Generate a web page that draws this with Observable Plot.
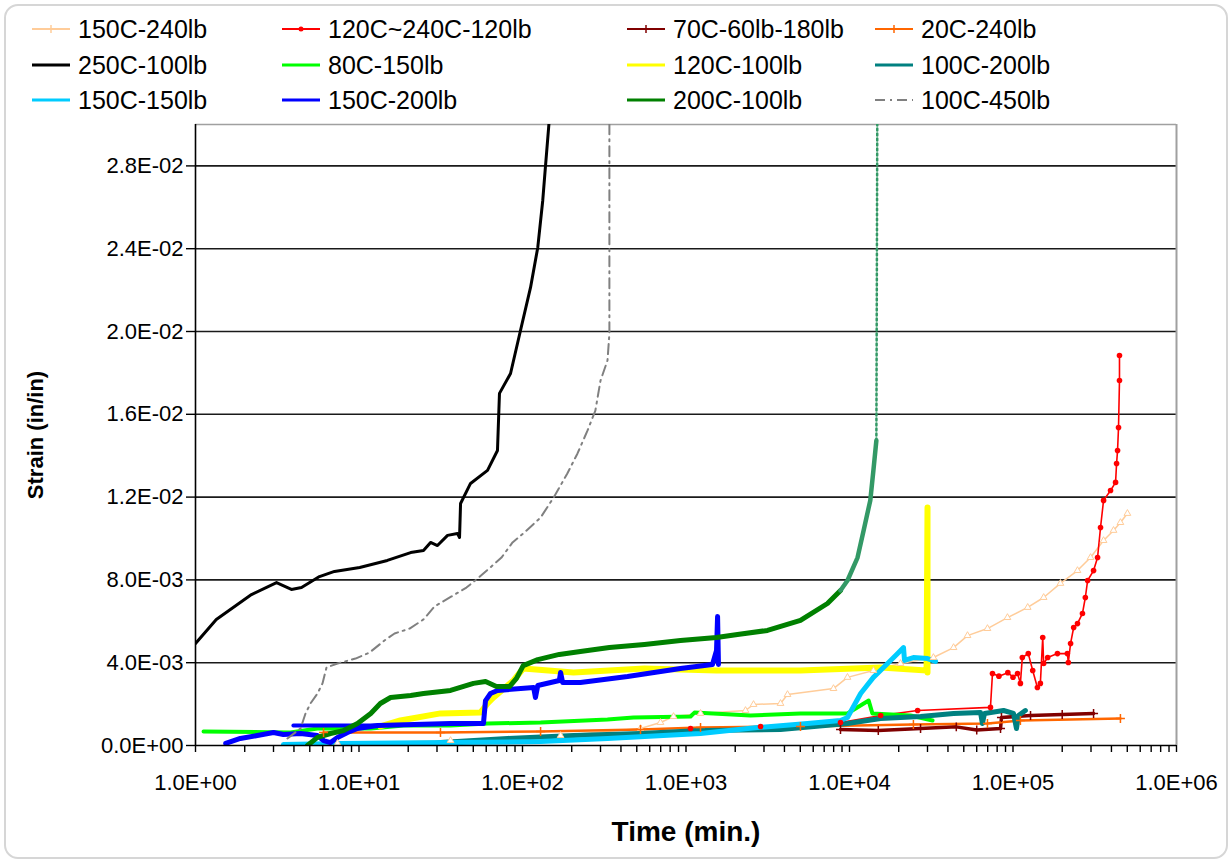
<!DOCTYPE html>
<html><head><meta charset="utf-8">
<script src="https://cdn.jsdelivr.net/npm/d3@7"></script>
<script src="https://cdn.jsdelivr.net/npm/@observablehq/plot@0.6"></script>
<style>
html,body{margin:0;padding:0;background:#fff;}
#page{position:relative;width:1232px;height:863px;overflow:hidden;font-family:"Liberation Sans",Arial,sans-serif;}
#border{position:absolute;left:4px;top:4px;width:1224px;height:855px;border:2px solid #d6d6d6;border-radius:14px;box-sizing:border-box;pointer-events:none;}
#legend{position:absolute;left:0;top:0;width:1232px;height:115px;}
.item{position:absolute;display:flex;align-items:center;height:28px;font-size:25px;color:#000;white-space:nowrap;}
.item svg{margin-right:8px;}
#chart{position:absolute;left:0;top:115px;}
</style></head>
<body><div id="page"><div id="legend"></div><div id="chart"></div><div id="border"></div></div>
<script>
// ---- tick values / labels ----
const xMajor = [1, 10, 100, 1000, 10000, 100000, 1000000];
const xMajorLabels = ["1.0E+00","1.0E+01","1.0E+02","1.0E+03","1.0E+04","1.0E+05","1.0E+06"];
const yTicks = [0, 0.004, 0.008, 0.012, 0.016, 0.020, 0.024, 0.028];
const yTickLabels = ["0.0E+00","4.0E-03","8.0E-03","1.2E-02","1.6E-02","2.0E-02","2.4E-02","2.8E-02"];

// ---- series names ----
const seriesNames = ["150C-240lb","120C~240C-120lb","70C-60lb-180lb","20C-240lb",
  "250C-100lb","80C-150lb","120C-100lb","100C-200lb",
  "150C-150lb","150C-200lb","200C-100lb","100C-450lb"];

// ---- series values: [time (min), strain (in/in)] ----
const d150C_240lb = [[7.39,0.00010],[36.3,0.00024],[171,0.00048],[527,0.00082],[698,0.00111],[839,0.00140],[1227,0.00155],[2312,0.00169],[2588,0.00198],[3785,0.00203],[4178,0.00246],[7980,0.00275],[9720,0.00329],[14000,0.00362],[20500,0.00396],[32600,0.00425],[43300,0.00473],[52700,0.00531],[69800,0.00565],[92500,0.00618],[123000,0.00667],[154000,0.00715],[195000,0.00783],[248000,0.00845],[298000,0.00908],[358000,0.00990],[412000,0.01039],[454000,0.01077],[501000,0.01121]];
const d120C_240C_120lb = [[1066,0.00082],[2858,0.00092],[8810,0.00111],[15500,0.00145],[26100,0.00169],[72800,0.00184],[74900,0.00348],[82000,0.00335],[93000,0.00352],[100000,0.00330],[106600,0.00348],[111000,0.00300],[114000,0.00425],[124000,0.00444],[132000,0.00362],[141000,0.00280],[147000,0.00300],[152000,0.00522],[154000,0.00396],[163000,0.00425],[187000,0.00444],[215000,0.00444],[218000,0.00401],[225000,0.00493],[235000,0.00570],[248000,0.00589],[266000,0.00638],[277000,0.00715],[286000,0.00797],[311000,0.00845],[329000,0.00908],[343000,0.01053],[358000,0.01184],[395000,0.01232],[424000,0.01271],[430000,0.01362],[436000,0.01425],[442000,0.01536],[448000,0.01763],[448000,0.01884]];
const d70C_60lb_180lb = [[8810,0.00077],[15000,0.00072],[27200,0.00082],[45000,0.00090],[60000,0.00075],[83900,0.00082],[85000,0.00135],[128000,0.00145],[200000,0.00150],[311000,0.00155]];
const d20C_240lb = [[6.07,0.00063],[31.5,0.00063],[129,0.00068],[527,0.00077],[1227,0.00087],[5012,0.00092],[24600,0.00101],[69800,0.00106],[111000,0.00121],[454000,0.00130]];
const d250C_100lb = [[1.0,0.00493],[1.34,0.00609],[2.20,0.00729],[3.13,0.00787],[3.86,0.00754],[4.45,0.00763],[5.73,0.00816],[7.08,0.00841],[10.1,0.00860],[14.9,0.00894],[20.7,0.00932],[24.8,0.00942],[27.4,0.00981],[30.2,0.00966],[34.8,0.01015],[40.0,0.01024],[41.2,0.01005],[41.8,0.01169],[48.1,0.01266],[61.1,0.01329],[70.3,0.01425],[72.3,0.01701],[84.5,0.01797],[97.2,0.02005],[112,0.02213],[124,0.02406],[133,0.02633],[138,0.02792],[146,0.03029]];
const d80C_150lb = [[1.12,0.00068],[3.81,0.00063],[5.57,0.00082],[11.8,0.00082],[18.7,0.00097],[36.3,0.00097],[61.1,0.00106],[129,0.00111],[331,0.00126],[477,0.00135],[1066,0.00140],[1127,0.00159],[2479,0.00145],[5012,0.00155],[9720,0.00155],[13100,0.00217],[13800,0.00155],[23600,0.00145],[32200,0.00121]];
const d120C_100lb = [[13.5,0.00092],[17.9,0.00121],[31.5,0.00155],[55.3,0.00159],[61.1,0.00203],[66.5,0.00232],[81.0,0.00290],[88.1,0.00314],[101,0.00372],[205,0.00353],[557,0.00372],[1537,0.00362],[5012,0.00362],[15500,0.00377],[29600,0.00362],[30000,0.01150],[30000,0.00353]];
const d100C_200lb = [[23.8,0],[31.5,0.00014],[81.0,0.00034],[205,0.00048],[527,0.00058],[1227,0.00072],[3785,0.00077],[9720,0.00106],[15500,0.00130],[27200,0.00140],[43300,0.00155],[63300,0.00159],[65000,0.00106],[66900,0.00155],[87500,0.00169],[100700,0.00155],[105000,0.00082],[108000,0.00145],[119000,0.00169]];
const d150C_150lb = [[3.45,0.00005],[7.71,0.00010],[36.3,0.00014],[129,0.00019],[331,0.00034],[1227,0.00058],[2737,0.00087],[5534,0.00106],[8810,0.00121],[9720,0.00135],[11700,0.00251],[14000,0.00329],[17100,0.00396],[19700,0.00444],[21400,0.00473],[21700,0.00411],[24600,0.00425],[30000,0.00420],[33600,0.00406]];
const d150C_200lb = [[1.53,0.00010],[1.88,0.00034],[2.39,0.00048],[3.00,0.00063],[3.45,0.00053],[4.39,0.00058],[5.57,0.00048],[6.07,0.00024],[6.69,0.00014],[7.39,0.00039],[8.51,0.00063],[9.79,0.00082],[13.0,0.00097],[36.3,0.00106],[57.7,0.00106],[59.4,0.00217],[63.7,0.00251],[70.3,0.00266],[117,0.00280],[120,0.00232],[124,0.00290],[168,0.00314],[171,0.00353],[176,0.00304],[226,0.00304],[439,0.00333],[925,0.00372],[1452,0.00391],[1537,0.00459],[1560,0.00623],[1580,0.00391]];
const d150C_200lb_b = [[3.97,0.00097],[13.0,0.00097]];
const d200C_100lb = [[4.84,0],[5.57,0.00039],[6.69,0.00058],[8.04,0.00072],[9.79,0.00106],[11.8,0.00155],[13.5,0.00203],[15.6,0.00232],[20.7,0.00242],[24.8,0.00251],[36.3,0.00266],[50.1,0.00300],[59.4,0.00309],[69.3,0.00285],[83.3,0.00285],[91.9,0.00324],[101,0.00386],[124,0.00415],[168,0.00440],[226,0.00454],[340,0.00473],[557,0.00488],[925,0.00507],[1537,0.00522],[2065,0.00536],[3150,0.00556],[5012,0.00604],[7330,0.00686],[8810,0.00749]];
const d200C_100lb_tail = [[8810,0.00749],[9720,0.00797],[11200,0.00908],[12200,0.01039],[13400,0.01184],[14000,0.01329],[14600,0.01473]];
const d200C_100lb_dotted = [[14600,0.01473],[14800,0.0310]];
const d100C_450lb = [[3.65,0.00034],[4.39,0.00082],[4.71,0.00155],[5.05,0.00203],[5.57,0.00251],[5.98,0.00300],[6.33,0.00377],[7.39,0.00396],[9.52,0.00420],[11.6,0.00449],[14.3,0.00507],[16.5,0.00541],[20.4,0.00565],[24.8,0.00609],[29.0,0.00672],[36.8,0.00720],[45.4,0.00763],[52.3,0.00802],[64.6,0.00865],[74.4,0.00908],[86.9,0.00981],[101,0.01024],[129,0.01101],[155,0.01198],[188,0.01314],[217,0.01411],[250,0.01522],[279,0.01618],[300,0.01763],[331,0.01860],[340,0.01990],[340,0.0310]];

// ---- styles ----
const colors = {
  "150C-240lb":"#FFCC99","120C~240C-120lb":"#FF0000","70C-60lb-180lb":"#800000","20C-240lb":"#FF6600",
  "250C-100lb":"#000000","80C-150lb":"#00FF00","120C-100lb":"#FFFF00","100C-200lb":"#008080",
  "150C-150lb":"#00CCFF","150C-200lb":"#0000FF","200C-100lb":"#008000","100C-450lb":"#808080"
};
const tailColor = "#339966";
const rows = arr => arr.map(([t, s]) => ({t, s}));

const lineSpecs = [
  [d150C_240lb, "150C-240lb", 1.5, null],
  [d120C_240C_120lb, "120C~240C-120lb", 1.6, null],
  [d70C_60lb_180lb, "70C-60lb-180lb", 3.5, null],
  [d20C_240lb, "20C-240lb", 2.5, null],
  [d250C_100lb, "250C-100lb", 3, null],
  [d80C_150lb, "80C-150lb", 4, null],
  [d120C_100lb, "120C-100lb", 6, null],
  [d100C_200lb, "100C-200lb", 5, null],
  [d150C_150lb, "150C-150lb", 5, null],
  [d150C_200lb, "150C-200lb", 5, null],
  [d150C_200lb_b, "150C-200lb", 4, null],
  [d200C_100lb, "200C-100lb", 5, null],
  [d100C_450lb, "100C-450lb", 2, "10,5,2,5"]
];

const lineMarks = [];
for (const [arr, name, w, dash] of lineSpecs) {
  lineMarks.push(Plot.line(rows(arr), {x: "t", y: "s", stroke: colors[name], strokeWidth: w,
    strokeDasharray: dash ?? undefined, clip: true, strokeLinejoin: "round"}));
  if (arr === d200C_100lb) {
    lineMarks.push(Plot.line(rows(d200C_100lb_tail), {x: "t", y: "s", stroke: tailColor, strokeWidth: 4.5, clip: true}));
    lineMarks.push(Plot.line(rows(d200C_100lb_dotted), {x: "t", y: "s", stroke: tailColor, strokeWidth: 2.5, strokeDasharray: "2,3", clip: true}));
  }
}
const markerMarks = [
  Plot.dot(rows(d150C_240lb), {x: "t", y: "s", r: 2.5, stroke: colors["150C-240lb"], fill: "#fff", strokeWidth: 1, symbol: "triangle", clip: true}),
  Plot.dot(rows(d120C_240C_120lb), {x: "t", y: "s", r: 2.8, fill: colors["120C~240C-120lb"], clip: true}),
  Plot.dot(rows(d20C_240lb), {x: "t", y: "s", r: 3, stroke: colors["20C-240lb"], symbol: "plus", strokeWidth: 1.5, clip: true}),
  Plot.dot(rows(d70C_60lb_180lb), {x: "t", y: "s", r: 3, stroke: colors["70C-60lb-180lb"], symbol: "plus", strokeWidth: 1.5, clip: true})
];

const minorTicks = [];
for (const d of xMajor.slice(0, -1)) for (let k = 2; k <= 9; k++) minorTicks.push(d * k);

const chart = Plot.plot({
  width: 1232,
  height: 748,
  marginTop: 9,
  marginBottom: 118,
  marginLeft: 195,
  marginRight: 56,
  style: {fontFamily: "'Liberation Sans', Arial, sans-serif", fontSize: "22px", background: "transparent", color: "#000"},
  x: {type: "log", domain: [1, 1000000]},
  y: {domain: [0, 0.03]},
  marks: [
    Plot.ruleY(yTicks.slice(1), {stroke: "#1a1a1a", strokeWidth: 1.6}),
    Plot.ruleY([0.03], {stroke: "#a0a0a0", strokeWidth: 1.5}),
    Plot.ruleX([1000000], {stroke: "#a0a0a0", strokeWidth: 2}),
    ...lineMarks,
    ...markerMarks,
    Plot.ruleX([1], {stroke: "#000", strokeWidth: 1.6}),
    Plot.ruleY([0], {stroke: "#000", strokeWidth: 1.6}),
    Plot.axisX({ticks: [...xMajor, ...minorTicks], tickFormat: d => { const i = xMajor.indexOf(d); return i >= 0 ? xMajorLabels[i] : ""; },
      tickSize: 7, tickPadding: 22, label: null, strokeWidth: 1.4}),
    Plot.axisY({ticks: yTicks, tickFormat: d => yTickLabels[yTicks.indexOf(d)], tickSize: 9, tickPadding: 3, label: null, strokeWidth: 1.4}),
    Plot.text(["Strain (in/in)"], {text: d => d, frameAnchor: "left", dx: -160, rotate: -90, textAnchor: "middle", lineAnchor: "middle", fontWeight: "bold", fontSize: 22}),
    Plot.text(["Time (min.)"], {text: d => d, frameAnchor: "bottom", dy: 87, textAnchor: "middle", lineAnchor: "middle", fontWeight: "bold", fontSize: 28})
  ]
});
document.getElementById("chart").appendChild(chart);

// ---- legend ----
const colX = [32, 282, 627, 875];
const rowY = [29, 65, 100];
const legend = document.getElementById("legend");
const markerKind = {"150C-240lb": "tick", "120C~240C-120lb": "dot", "70C-60lb-180lb": "tick", "20C-240lb": "tick"};
seriesNames.forEach((name, i) => {
  const col = i % 4, row = Math.floor(i / 4);
  const item = document.createElement("div");
  item.className = "item";
  item.style.left = colX[col] + "px";
  item.style.top = (rowY[row] - 14) + "px";
  const c = colors[name];
  let sw;
  if (name === "100C-450lb") {
    sw = `<line x1="0" x2="38" y1="7" y2="7" stroke="${c}" stroke-width="2" stroke-dasharray="10,5,2,5"/>`;
  } else if (markerKind[name]) {
    sw = `<line x1="0" x2="38" y1="7" y2="7" stroke="${c}" stroke-width="2"/>` +
      (markerKind[name] === "dot" ? `<circle cx="19" cy="7" r="2.5" fill="${c}"/>` : `<line x1="19" x2="19" y1="3" y2="11" stroke="${c}" stroke-width="1.5"/>`);
  } else {
    sw = `<line x1="0" x2="38" y1="7" y2="7" stroke="${c}" stroke-width="3"/>`;
  }
  item.innerHTML = `<svg width="38" height="14">${sw}</svg><span>${name}</span>`;
  legend.appendChild(item);
});
</script>
</body></html>
